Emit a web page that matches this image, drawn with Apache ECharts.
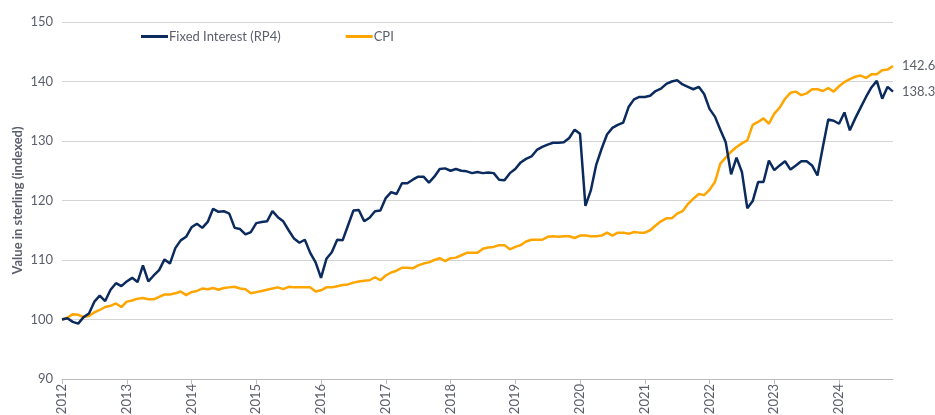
<!DOCTYPE html>
<html>
<head>
<meta charset="utf-8">
<script src="https://cdn.jsdelivr.net/npm/echarts@6/dist/echarts.min.js"></script>
<style>
  html, body { margin: 0; padding: 0; background: #fff; }
  #chart { width: 935px; height: 415px; }
</style>
</head>
<body>
<div id="chart"></div>
<script>
// monthly index values, Jan 2012 = 100, up to Nov 2024
var fixedInterest = [
  100, 100.2, 99.6, 99.3, 100.4, 101, 103, 104, 103.1, 105, 106.1, 105.6,
  106.4, 107, 106.3, 109.1, 106.4, 107.4, 108.3, 110.1, 109.4, 112, 113.3, 113.9,
  115.5, 116.1, 115.4, 116.4, 118.6, 118.1, 118.2, 117.8, 115.4, 115.2, 114.3, 114.7,
  116.2, 116.4, 116.5, 118.2, 117.2, 116.5, 115, 113.6, 112.9, 113.4, 111.2, 109.6,
  107.0, 110.2, 111.3, 113.4, 113.3, 115.8, 118.3, 118.4, 116.5, 117.1, 118.2, 118.3,
  120.4, 121.4, 121.1, 122.9, 122.9, 123.5, 124, 124, 123, 124, 125.3, 125.4,
  125, 125.3, 125, 124.9, 124.6, 124.8, 124.6, 124.7, 124.6, 123.5, 123.4, 124.6,
  125.3, 126.4, 127, 127.4, 128.5, 129, 129.4, 129.7, 129.7, 129.8, 130.5, 131.9,
  131.2, 119.1, 121.7, 126, 128.7, 131.1, 132.2, 132.7, 133.1, 135.7, 137, 137.4,
  137.4, 137.6, 138.4, 138.8, 139.6, 140, 140.2, 139.5, 139.1, 138.7, 139.1, 137.9,
  135.4, 134.1, 131.9, 129.8, 124.4, 127.2, 124.8, 118.7, 119.9, 123.1, 123.1, 126.7,
  125.1, 125.9, 126.6, 125.2, 125.9, 126.6, 126.6, 125.9, 124.2, 129, 133.6, 133.4,
  132.9, 134.8, 131.8, 133.8, 135.6, 137.4, 139, 140.1, 137.1, 139.1, 138.3
];
var cpi = [
  100, 100.3, 100.9, 100.8, 100.4, 100.6, 101.2, 101.6, 102.1, 102.3, 102.7, 102.1,
  103, 103.2, 103.5, 103.6, 103.4, 103.4, 103.8, 104.2, 104.2, 104.4, 104.7, 104.1,
  104.6, 104.8, 105.2, 105.1, 105.3, 105, 105.3, 105.4, 105.5, 105.2, 105.1, 104.4,
  104.6, 104.8, 105, 105.2, 105.4, 105.1, 105.5, 105.4, 105.4, 105.4, 105.4, 104.7,
  104.9, 105.4, 105.4, 105.6, 105.8, 105.9, 106.2, 106.4, 106.5, 106.6, 107.1, 106.6,
  107.4, 107.9, 108.2, 108.7, 108.7, 108.6, 109.1, 109.4, 109.6, 110, 110.3, 109.8,
  110.3, 110.4, 110.8, 111.2, 111.2, 111.2, 111.9, 112.1, 112.2, 112.5, 112.5, 111.8,
  112.2, 112.5, 113.1, 113.4, 113.4, 113.4, 113.9, 114, 113.9, 114, 114, 113.7,
  114.1, 114.1, 114, 114, 114.1, 114.6, 114.1, 114.6, 114.6, 114.4, 114.7, 114.6,
  114.6, 115, 115.8, 116.5, 117, 117, 117.8, 118.2, 119.4, 120.3, 121.1, 120.9,
  121.8, 123.1, 126.2, 127.2, 128.2, 129, 129.6, 130.1, 132.7, 133.2, 133.8, 132.9,
  134.6, 135.6, 137.1, 138.1, 138.3, 137.7, 138, 138.7, 138.7, 138.4, 138.9, 138.3,
  139.2, 139.9, 140.4, 140.8, 141, 140.6, 141.2, 141.2, 141.9, 142, 142.6
];
var seriesNames = ['Fixed Interest (RP4)', 'CPI'];

// month categories, '2012-01' ...
var months = [];
for (var i = 0; i < fixedInterest.length; i++) {
  var y = 2012 + Math.floor(i / 12);
  var m = (i % 12) + 1;
  months.push(y + '-' + (m < 10 ? '0' + m : m));
}

function isJan(index, value) {
  return months[index].slice(5) === '01';
}

var textColor = '#5b5f6b';
var chart = echarts.init(document.getElementById('chart'));
chart.setOption({
  animation: false,
  textStyle: { fontFamily: 'Lato, "Noto Sans", sans-serif' },
  grid: { left: 62, right: 42, top: 22, bottom: 36, outerBoundsMode: 'none' },
  legend: {
    left: 136,
    top: 25,
    itemWidth: 27,
    itemHeight: 3,
    itemGap: 65,
    icon: 'rect',
    textStyle: { color: textColor, fontSize: 13, padding: [0, 0, 0, -4] },
    data: seriesNames
  },
  xAxis: {
    type: 'category',
    data: months,
    boundaryGap: false,
    axisLine: { lineStyle: { color: '#bdbdbd', width: 1 } },
    axisTick: { interval: isJan, length: 5, lineStyle: { color: '#bdbdbd' } },
    axisLabel: {
      interval: isJan,
      rotate: 90,
      margin: 5,
      color: textColor,
      fontSize: 13,
      formatter: function (v) { return v.slice(0, 4); }
    }
  },
  yAxis: {
    type: 'value',
    min: 90,
    max: 150,
    interval: 10,
    name: 'Value in sterling (indexed)',
    nameLocation: 'middle',
    nameGap: 38,
    nameMoveOverlap: false,
    nameTextStyle: { color: textColor, fontSize: 13, fontWeight: 'bold' },
    axisLine: { show: false },
    axisTick: { show: false },
    axisLabel: { color: textColor, fontSize: 13, margin: 9 },
    splitLine: { lineStyle: { color: '#d4d4d4', width: 1 } }
  },
  series: [
    {
      name: seriesNames[0],
      type: 'line',
      data: fixedInterest,
      showSymbol: false,
      symbol: 'none',
      lineStyle: { color: '#0b2a5e', width: 2.5 },
      itemStyle: { color: '#0b2a5e' },
      endLabel: {
        show: true,
        distance: 9,
        color: textColor,
        fontSize: 13,
        formatter: function (p) { return p.value.toFixed(1); }
      },
      z: 3
    },
    {
      name: seriesNames[1],
      type: 'line',
      data: cpi,
      showSymbol: false,
      symbol: 'none',
      lineStyle: { color: '#ffa500', width: 2.5 },
      itemStyle: { color: '#ffa500' },
      endLabel: {
        show: true,
        distance: 9,
        color: textColor,
        fontSize: 13,
        formatter: function (p) { return p.value.toFixed(1); }
      },
      z: 2
    }
  ]
});
</script>
</body>
</html>
